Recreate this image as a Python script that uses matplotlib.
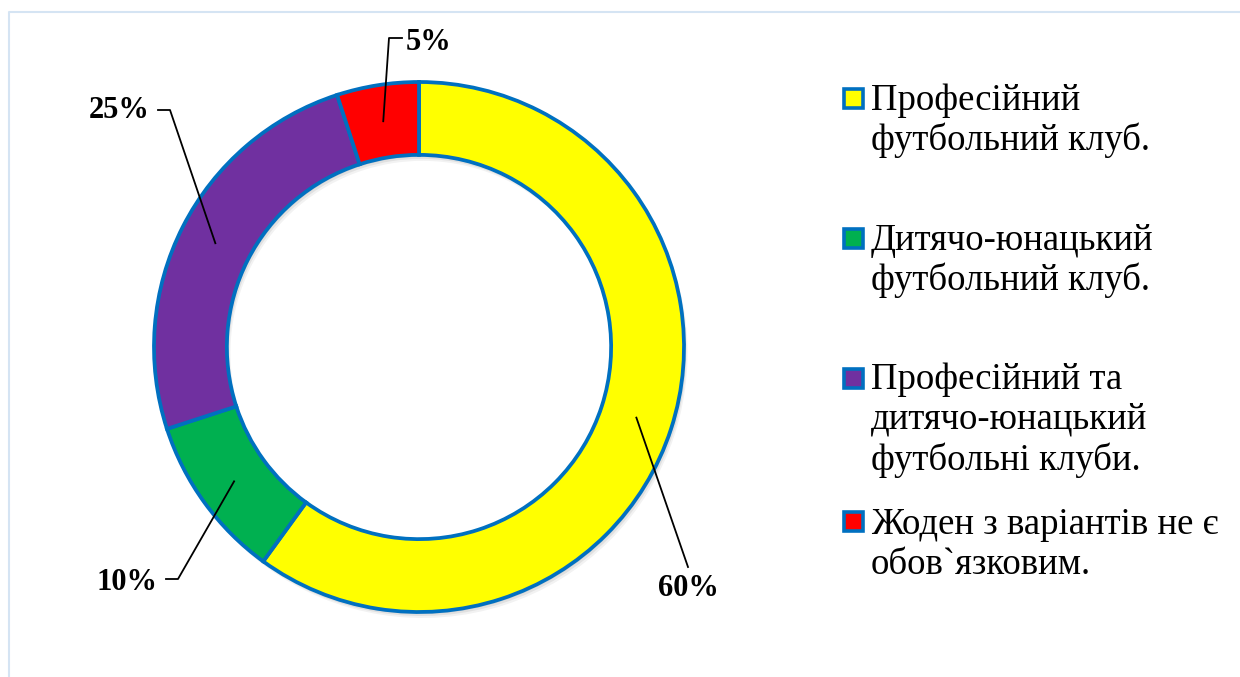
import numpy as np
import matplotlib
matplotlib.use("Agg")
import matplotlib.pyplot as plt
from matplotlib.patches import Rectangle

categories = [
    "Професійний\nфутбольний клуб.",
    "Дитячо-юнацький\nфутбольний клуб.",
    "Професійний та\nдитячо-юнацький\nфутбольні клуби.",
    "Жоден з варіантів не є\nобов`язковим.",
]
values = [60, 10, 25, 5]
pct_labels = ["60%", "10%", "25%", "5%"]
colors = ["#FFFF00", "#00B050", "#7030A0", "#FF0000"]
edge = "#0070C0"

W, H = 1240, 677
fig = plt.figure(figsize=(W / 100, H / 100), dpi=100)
ax = fig.add_axes([0, 0, 1, 1])

def py(y):
    return H - y

cx, cy = 419, py(347)
R = 265
width = 0.275

# soft shadow
for k, a in [(6, 0.05), (4, 0.07), (2, 0.08)]:
    ax.pie(values, startangle=90, counterclock=False, radius=R,
           center=(cx + k * 0.6, cy - k), colors=["#000000"] * 4,
           wedgeprops=dict(width=R * width, linewidth=0, alpha=a),
           frame=True)

wedges, _ = ax.pie(values, startangle=90, counterclock=False, radius=R,
                   center=(cx, cy), colors=colors,
                   wedgeprops=dict(width=R * width, edgecolor=edge, linewidth=2.7),
                   frame=True)
ax.set_xlim(0, W)
ax.set_ylim(0, H)
ax.set_aspect("equal")
ax.axis("off")

# frame (top and left visible)
ax.plot([9, 9, W + 5], [-5, py(12), py(12)], color="#D5E4F3", lw=1.5, zorder=0)

# percent labels with leader lines
pfont = dict(family="Liberation Serif", fontweight="bold", fontsize=22)
label_layout = [
    ((688, 589), [(688, 567)]),
    ((127, 582), [(178, 579), (166, 579)]),
    ((119, 110), [(170, 110), (158, 110)]),
    ((429, 42), [(389, 38), (402, 38)]),
]
rmid = R * (1 - width / 2)
for w, lab, (tpos, pts) in zip(wedges, pct_labels, label_layout):
    ang = np.deg2rad((w.theta1 + w.theta2) / 2)
    ax_ = cx + rmid * np.cos(ang)
    ay_ = cy + rmid * np.sin(ang)
    xs = [ax_] + [p[0] for p in pts]
    ys = [ay_] + [py(p[1]) for p in pts]
    ax.plot(xs, ys, color="black", lw=1.3, zorder=5)
    ax.text(tpos[0], py(tpos[1]), lab, ha="center", va="center", zorder=6, **pfont)

# legend
lfont = dict(family="Liberation Serif", fontsize=26.5)
entry_base = [111, 251, 391, 534]
line_gap = 39.5
for lab, col, eb in zip(categories, colors, entry_base):
    ey = eb - 13
    n = lab.count("\n")
    ax.add_patch(Rectangle((844, py(ey) - 9.5), 19, 19, facecolor=col,
                           edgecolor=edge, linewidth=2.6, zorder=5))
    ax.text(871, py(eb + n * line_gap), lab, ha="left", va="baseline",
            linespacing=1.2, zorder=6, **lfont)

fig.savefig("out.png", dpi=100)
